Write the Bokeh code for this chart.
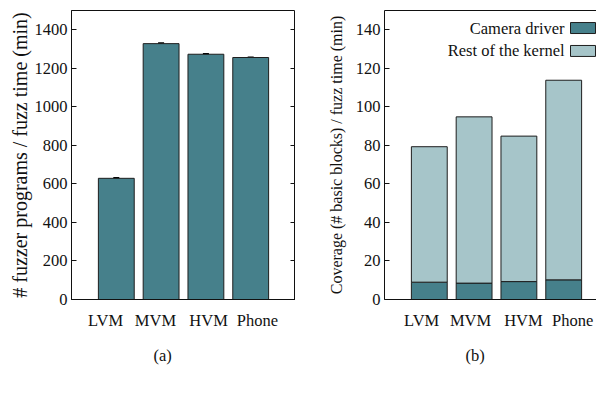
from bokeh.plotting import figure
from bokeh.models import (ColumnDataSource, Range1d, FixedTicker, LinearAxis, Whisker,
                          CustomJSTickFormatter, Label, BoxAnnotation, TeeHead, Title)
from bokeh.layouts import row
from bokeh.embed import file_html
from bokeh.resources import INLINE

# ---- data ----
categories = ["LVM", "MVM", "HVM", "Phone"]
fuzz_rate = [629, 1328, 1273, 1256]
fuzz_err = [3, 3, 2, 2]
camera_cov = [9.0, 8.5, 9.3, 10.2]
rest_cov = [70.3, 86.3, 75.5, 103.6]
series_names = ["Camera driver", "Rest of the kernel"]
captions = ["(a)", "(b)"]
yticks_a = [0, 200, 400, 600, 800, 1000, 1200, 1400]
yticks_b = [0, 20, 40, 60, 80, 100, 120, 140]

DARK = "#46808b"
LIGHT = "#a6c5c9"
EDGE = "#1e1e1e"
INK = "#111111"
FONT = "'Liberation Serif'"
TICK_SIZE = "16.5px"
xs = list(range(len(categories)))

def style_axes(p, yticks, ylabel, ylab_size, ylab_standoff, label_shift):
    p.grid.visible = False
    xa = p.below[0]
    ya = p.left[0]
    pos = [i + s for i, s in zip(xs, label_shift)]
    xa.ticker = FixedTicker(ticks=pos)
    xa.major_label_overrides = {t: c for t, c in zip(pos, categories)}
    xa.major_tick_line_color = None
    xa.minor_tick_line_color = None
    xa.major_label_standoff = 5
    ya.ticker = FixedTicker(ticks=yticks)
    ya.major_tick_in = 5
    ya.major_tick_out = 0
    ya.minor_tick_line_color = None
    ya.major_tick_line_color = INK
    ya.major_label_standoff = 4
    ya.axis_label = ylabel
    ya.axis_label_text_font_size = ylab_size
    ya.axis_label_text_font_style = "normal"
    ya.axis_label_standoff = ylab_standoff
    for ax in (xa, ya):
        ax.major_label_text_font = FONT
        ax.major_label_text_font_size = TICK_SIZE
        ax.axis_label_text_font = FONT
        ax.major_label_text_color = INK
        ax.axis_label_text_color = INK
        ax.axis_line_color = INK

def add_caption(p, text, offset):
    p.add_layout(Title(text=text, align="left", offset=offset, standoff=23,
                       text_font=FONT, text_font_size=TICK_SIZE, text_font_style="normal",
                       text_color=INK), "below")

# ---- figure (a) ----
pa = figure(frame_width=224, frame_height=289, output_backend="svg", toolbar_location=None,
            x_range=Range1d(-1, 4), y_range=Range1d(0, 1500),
            min_border_left=71, min_border_right=0, min_border_top=10, min_border_bottom=72)
src_a = ColumnDataSource(dict(x=xs, y=fuzz_rate,
                              lo=[v - e for v, e in zip(fuzz_rate, fuzz_err)],
                              hi=[v + e for v, e in zip(fuzz_rate, fuzz_err)]))
pa.vbar(x="x", top="y", width=0.8, source=src_a, fill_color=DARK, line_color=EDGE, line_width=1)
pa.add_layout(Whisker(base="x", lower="lo", upper="hi", source=src_a, line_color="black",
                      line_width=1.5,
                      upper_head=TeeHead(size=6, line_color="black", line_width=1.5),
                      lower_head=TeeHead(size=6, line_color="black", line_width=1.5)))
pa.outline_line_color = INK
pa.outline_line_alpha = 1
ra = LinearAxis(ticker=FixedTicker(ticks=yticks_a), major_tick_in=5, major_tick_out=0,
                formatter=CustomJSTickFormatter(code="return ''"), axis_line_color=None,
                minor_tick_line_color=None, major_tick_line_color=INK,
                major_label_standoff=0)
pa.add_layout(ra, "right")
style_axes(pa, yticks_a, "# fuzzer programs / fuzz time (min)", "20px", 1,
           [-0.24, -0.125, 0.06, 0.15])
add_caption(pa, captions[0], 82)

# ---- figure (b) ----
pb = figure(frame_width=212, frame_height=289, output_backend="svg", toolbar_location=None,
            x_range=Range1d(-1, -1 + 5 * 212 / 224), y_range=Range1d(0, 150),
            min_border_left=89, min_border_right=0, min_border_top=10, min_border_bottom=72)
src_b = ColumnDataSource(dict(x=xs, camera=camera_cov, rest=rest_cov))
pb.vbar_stack(["camera", "rest"], x="x", width=0.8, source=src_b,
              fill_color=[DARK, LIGHT], line_color=EDGE, line_width=1)
pb.outline_line_color = None
top_ax = LinearAxis(ticker=FixedTicker(ticks=[]), axis_line_color=INK,
                    major_tick_line_color=None, minor_tick_line_color=None,
                    major_label_standoff=0, major_tick_out=0, major_tick_in=0)
pb.add_layout(top_ax, "above")
style_axes(pb, yticks_b, "Coverage (# basic blocks) / fuzz time (min)", "16px", 8,
           [-0.17, -0.08, 0.10, 0.20])
add_caption(pb, captions[1], 81)

# legend (labels left of swatches)
leg_y = [140.9, 129.0]
for name, col, yy in zip(series_names, [DARK, LIGHT], leg_y):
    pb.add_layout(Label(x=3.02, y=yy, text=name, text_font=FONT, text_font_size="16.5px",
                        text_align="right", text_baseline="middle", text_color=INK))
    pb.add_layout(BoxAnnotation(left=3.152, right=3.71, bottom=yy - 2.85, top=yy + 2.85,
                                fill_color=col, fill_alpha=1, line_color=EDGE, line_width=1,
                                line_alpha=1))

layout = row(pa, pb, spacing=0)
open("out.html", "w").write(file_html(layout, INLINE))
